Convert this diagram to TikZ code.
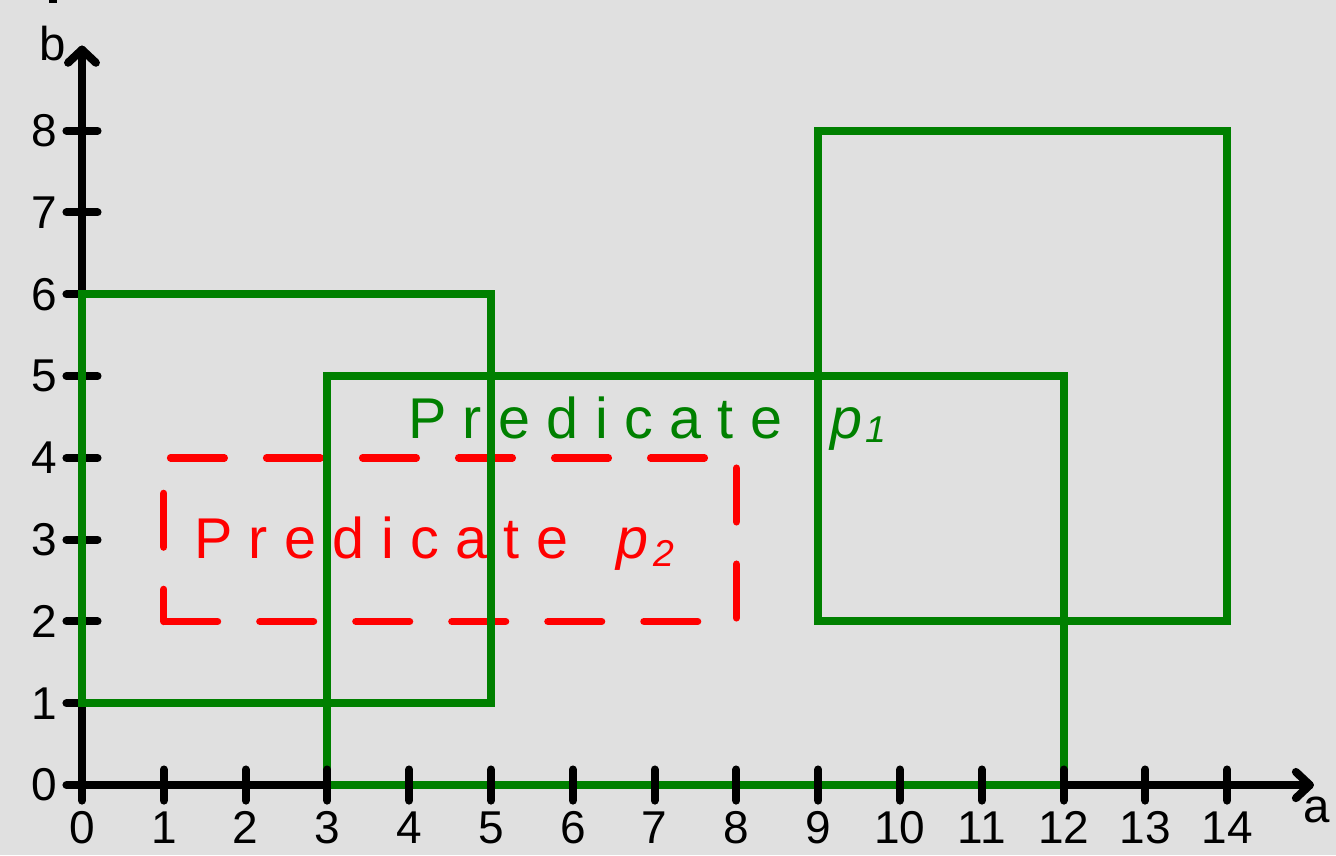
\documentclass[tikz,border=0pt]{standalone}
\usepackage{fontspec}
\setmainfont{Liberation Sans}
\definecolor{bg}{RGB}{224,224,224}
\definecolor{pgreen}{RGB}{0,128,0}
\definecolor{pred}{RGB}{255,0,0}
% letter spacing for the predicate labels
\newcommand\ks{\kern5.7pt}
\begin{document}
\begin{tikzpicture}[x=1cm,y=1cm,
  axis/.style={line width=2.8pt, draw=black, line cap=round, line join=round},
  tickmark/.style={line width=2.8pt, draw=black, line cap=round},
  region/.style={line width=2.8pt, draw=pgreen},
  dregion/.style={line width=2.55pt, draw=pred, line cap=round,
                  dash pattern=on 18.7pt off 14.7pt},
  ticklabel/.style={font=\fontsize{16}{18}\selectfont, inner sep=0pt},
  axlabel/.style={font=\fontsize{16.5}{19}\selectfont, inner sep=0pt},
  predlabel/.style={font=\fontsize{20}{24}\selectfont, inner sep=0pt, anchor=base west}]
\useasboundingbox (-1.0024,-0.856) rectangle (15.33,9.597);
\fill[bg] (-1.0024,-0.856) rectangle (15.33,9.597);
\fill[black] (-0.403,9.555) rectangle (-0.305,9.62);

% axes
\coordinate (O) at (0,0);
\coordinate (ytip) at (0,8.99);
\coordinate (xtip) at (15.01,0);
\draw[axis] (O) -- (ytip);
\draw[axis] ([shift={(-0.17,-0.16)}]ytip) -- (ytip) -- ([shift={(0.17,-0.16)}]ytip);
\draw[axis] (O) -- (xtip);
\draw[axis] ([shift={(-0.17,0.16)}]xtip) -- (xtip) -- ([shift={(-0.17,-0.16)}]xtip);
\node[axlabel] (blabel) at (-0.36,9.06) {b};
\node[axlabel] (alabel) at (15.09,-0.31) {a};

% b ticks and labels
\foreach \y in {0,...,8} {
  \draw[tickmark] (-0.19,\y) -- (0.19,\y);
  \node[ticklabel, anchor=east] (yl\y) at (-0.30,\y) {\y};
}

% predicate p2 (dashed) and predicate p1 (solid boxes)
\draw[dregion] (1,2) -- (8,2) -- (8,4) -- (1,4) -- cycle;
\draw[region] (0,1) rectangle (5,6);
\draw[region] (3,0) rectangle (12,5);
\draw[region] (9,2) rectangle (14,8);

% a ticks and labels
\foreach \x in {0,...,14} {
  \draw[tickmark] (\x,-0.19) -- (\x,0.19);
  \node[ticklabel, anchor=base] (xl\x) at (\x,-0.72) {\x};
}

\node[predlabel, text=pgreen] (p1) at (3.98,4.24)
  {P\ks r\ks e\ks d\ks i\ks c\ks a\ks t\ks e\ks\ \ks\textit{p}\kern1pt\raisebox{-1.4pt}{\fontsize{13}{15}\selectfont\itshape 1}};
\node[predlabel, text=pred] (p2) at (1.363,2.775)
  {P\ks r\ks e\ks d\ks i\ks c\ks a\ks t\ks e\ks\ \ks\textit{p}\kern1.5pt\raisebox{-2.8pt}{\fontsize{13}{15}\selectfont\itshape 2}};
\end{tikzpicture}
\end{document}
